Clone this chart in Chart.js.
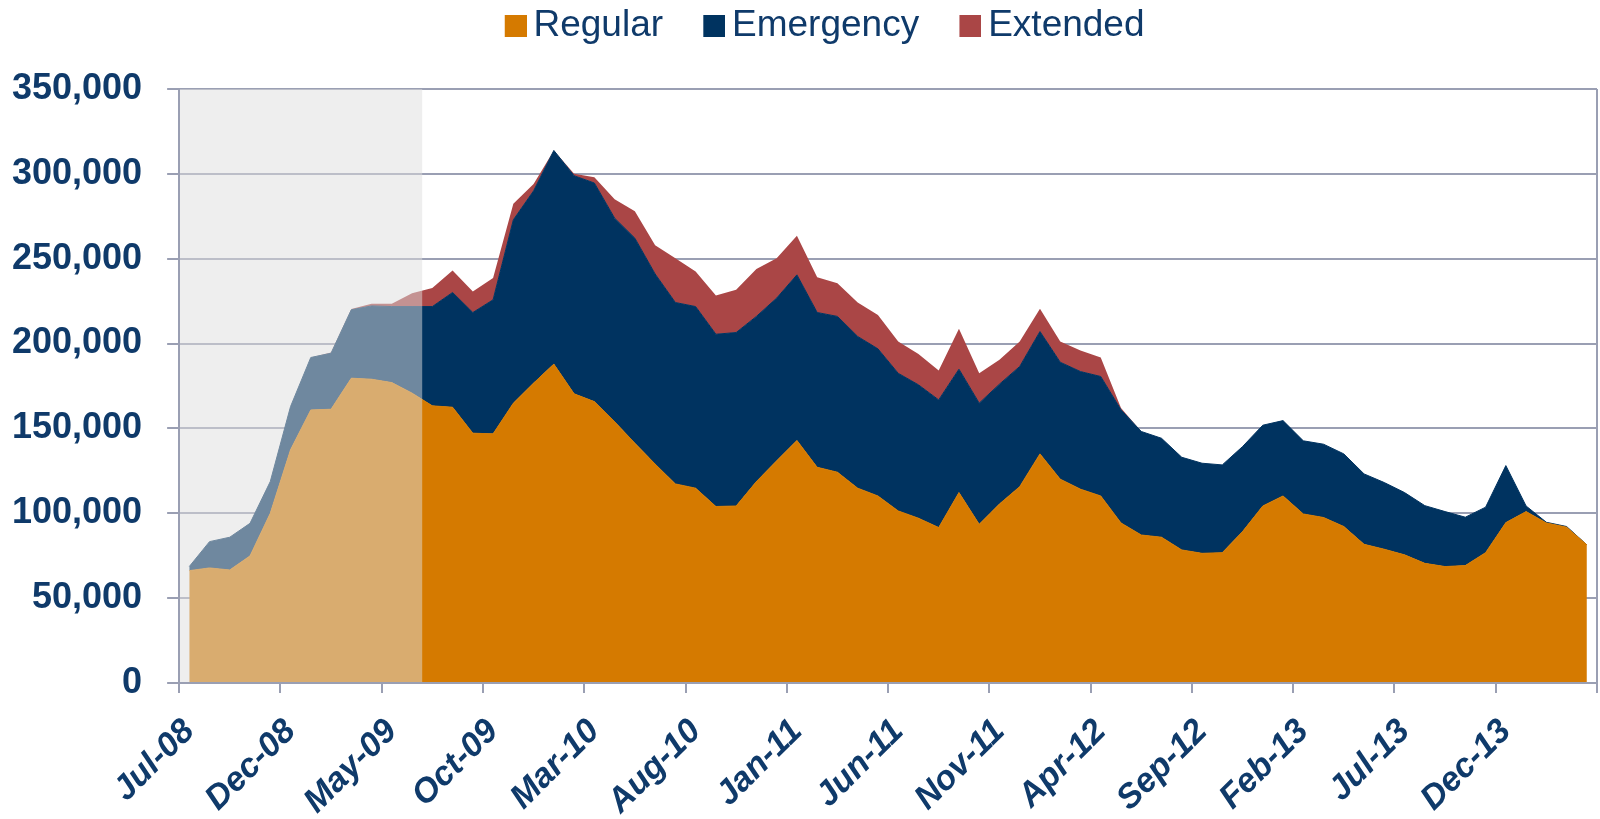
<!DOCTYPE html>
<html>
<head>
<meta charset="utf-8">
<title>Regular, Emergency and Extended</title>
<script src="https://cdn.jsdelivr.net/npm/chart.js"></script>
<style>
  html, body { margin: 0; padding: 0; background: #fff; }
  canvas { display: block; }
</style>
</head>
<body>
<canvas id="benefitsChart" width="1600" height="819"></canvas>
<script>
// Months on the category axis
const months = [
  'Jul-08', 'Aug-08', 'Sep-08', 'Oct-08', 'Nov-08', 'Dec-08',
  'Jan-09', 'Feb-09', 'Mar-09', 'Apr-09', 'May-09', 'Jun-09', 'Jul-09', 'Aug-09', 'Sep-09', 'Oct-09', 'Nov-09', 'Dec-09',
  'Jan-10', 'Feb-10', 'Mar-10', 'Apr-10', 'May-10', 'Jun-10', 'Jul-10', 'Aug-10', 'Sep-10', 'Oct-10', 'Nov-10', 'Dec-10',
  'Jan-11', 'Feb-11', 'Mar-11', 'Apr-11', 'May-11', 'Jun-11', 'Jul-11', 'Aug-11', 'Sep-11', 'Oct-11', 'Nov-11', 'Dec-11',
  'Jan-12', 'Feb-12', 'Mar-12', 'Apr-12', 'May-12', 'Jun-12', 'Jul-12', 'Aug-12', 'Sep-12', 'Oct-12', 'Nov-12', 'Dec-12',
  'Jan-13', 'Feb-13', 'Mar-13', 'Apr-13', 'May-13', 'Jun-13', 'Jul-13', 'Aug-13', 'Sep-13', 'Oct-13', 'Nov-13', 'Dec-13',
  'Jan-14', 'Feb-14', 'Mar-14', 'Apr-14'
];

// Series (stacked)
const regular = [
  66200, 67800, 66600, 74900, 100000, 137400, 160900, 161300, 179600, 179000, 177000, 170800,
  163300, 162500, 147200, 146800, 164900, 176700, 187900, 170400, 165800, 154000, 141300, 129000,
  117300, 114800, 104000, 104300, 118700, 130900, 142900, 127100, 124200, 114800, 110200, 101400,
  97100, 91600, 112200, 93500, 105500, 115700, 135000, 120100, 114200, 110200, 94300, 87200,
  85900, 78400, 76400, 76800, 89200, 104300, 110200, 99600, 97500, 92200, 81700, 78800,
  75500, 70500, 68600, 69200, 76800, 94500, 101000, 94300, 91800, 81400
];
const emergency = [
  2400, 15500, 19300, 19200, 18700, 25500, 30900, 33000, 40300, 43200, 44800, 51000,
  58500, 67600, 71100, 79000, 108000, 113300, 125900, 128500, 128800, 119900, 120800, 112000,
  106900, 107000, 101500, 102200, 97300, 95900, 97600, 91200, 91800, 89400, 86700, 81100,
  78600, 75200, 72700, 71400, 70600, 70800, 72100, 68900, 69300, 70400, 66700, 61000,
  58300, 54600, 53100, 51700, 50100, 47600, 44400, 43100, 43200, 42800, 41500, 39300,
  36700, 34000, 32400, 28500, 26800, 33600, 3300, 400, 400, 0
];
const extended = [
  0, 0, 0, 0, 0, 0, 0, 500, 500, 1200, 1600, 7900,
  10900, 13000, 12400, 12800, 9500, 4000, 0, 1100, 3400, 11200, 15800, 17000,
  26100, 20700, 22800, 25200, 27900, 23500, 23000, 20800, 19600, 20000, 20000, 18700,
  18200, 17300, 23800, 17600, 14300, 14700, 13400, 12200, 12400, 11200, 1000, 0,
  0, 0, 0, 0, 0, 0, 0, 0, 0, 0, 0, 0,
  0, 0, 0, 0, 0, 0, 0, 0, 0, 0
];

const yMax = 350000;
const yStep = 50000;
const labelEvery = 5;     // one axis label every 5 months
const shadedMonths = 12;  // first year sits under the grey panel

const orange = '#d57a00';
const navy = '#003360';
const red = '#aa4646';
const textColor = '#0f3a6a';
const lineColor = '#9a9fb3';
const fontFamily = '"Liberation Sans", Arial, sans-serif';

// legend swatch: square drawn at the right side of the image so it sits close to its text
function swatch(color) {
  const c = document.createElement('canvas');
  c.width = 74;
  c.height = 22;
  const g = c.getContext('2d');
  g.fillStyle = color;
  g.fillRect(52, 0, 22, 22);
  return c;
}
const swatches = [swatch(orange), swatch(navy), swatch(red)];

// extra room under the legend before the plot starts
const legendGap = 34.5;
const legendGapPlugin = {
  id: 'legendGap',
  afterInit(chart) {
    const legend = chart.legend;
    const fit = legend.fit;
    legend.fit = function() {
      fit.call(this);
      this.height += legendGap;
    };
  }
};

// grey panel washing out the first months
const shadePlugin = {
  id: 'shade',
  afterDatasetsDraw(chart) {
    const { ctx, chartArea, scales } = chart;
    const x = scales.x;
    const edge = (x.getPixelForValue(shadedMonths - 1) + x.getPixelForValue(shadedMonths)) / 2;
    ctx.save();
    ctx.fillStyle = 'rgba(221, 221, 221, 0.5)';
    ctx.fillRect(chartArea.left, chartArea.top, edge - chartArea.left, chartArea.bottom - chartArea.top);
    ctx.restore();
  }
};

const ctx = document.getElementById('benefitsChart').getContext('2d');
new Chart(ctx, {
  type: 'line',
  data: {
    labels: months,
    datasets: [
      { label: 'Regular', data: regular, backgroundColor: orange, borderColor: orange, borderWidth: 1, fill: 'origin' },
      { label: 'Emergency', data: emergency, backgroundColor: navy, borderColor: navy, borderWidth: 1, fill: '-1' },
      { label: 'Extended', data: extended, backgroundColor: red, borderColor: red, borderWidth: 0, fill: '-1' }
    ]
  },
  options: {
    responsive: false,
    animation: false,
    devicePixelRatio: 1,
    elements: {
      point: { radius: 0, hoverRadius: 0 },
      line: { tension: 0 }
    },
    layout: { padding: { top: 7.5, left: 12, right: 3, bottom: 0 } },
    plugins: {
      tooltip: { enabled: false },
      legend: {
        position: 'top',
        labels: {
          usePointStyle: true,
          pointStyleWidth: 50.5,
          padding: 0,
          color: textColor,
          font: { family: fontFamily, size: 37 },
          generateLabels: function(chart) {
            return Chart.defaults.plugins.legend.labels.generateLabels(chart).map(function(item) {
              item.pointStyle = swatches[item.datasetIndex];
              return item;
            });
          }
        }
      }
    },
    scales: {
      x: {
        offset: true,
        border: { color: lineColor, width: 2, z: 1 },
        grid: {
          offset: true,
          lineWidth: 2,
          tickLength: 10,
          // only the closing line on the right is drawn across the plot
          color: c => c.index === undefined ? lineColor : 'transparent',
          tickColor: c => (c.index === undefined || c.index % labelEvery === 0) ? lineColor : 'transparent'
        },
        ticks: {
          autoSkip: false,
          minRotation: 45,
          maxRotation: 45,
          padding: 21,
          color: textColor,
          font: { family: fontFamily, size: 34, weight: 'bold', style: 'italic', lineHeight: 1 },
          callback: function(value, index) {
            return index % labelEvery === 0 ? this.getLabelForValue(value) : '';
          }
        },
        afterFit: function(scale) {
          scale.height = 136;
          scale.paddingRight = 0;
        }
      },
      y: {
        stacked: true,
        min: 0,
        max: yMax,
        border: { color: lineColor, width: 2, z: 1 },
        grid: { color: lineColor, lineWidth: 2, tickLength: 12 },
        ticks: {
          stepSize: yStep,
          padding: 25,
          color: textColor,
          font: { family: fontFamily, size: 36, weight: 'bold' },
          callback: v => v.toLocaleString('en-US')
        },
        afterFit: function(scale) {
          // padding is counted on both sides of the labels; keep it only between label and tick
          scale.width -= scale.options.ticks.padding;
        }
      }
    }
  },
  plugins: [shadePlugin, legendGapPlugin]
});
</script>
</body>
</html>
